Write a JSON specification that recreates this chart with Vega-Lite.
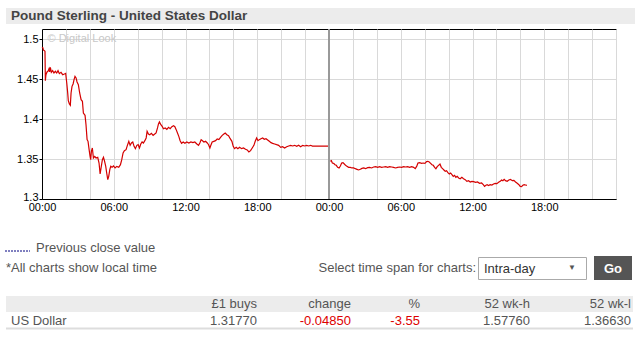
{
  "$schema": "https://vega.github.io/schema/vega-lite/v6.json",
  "width": 574,
  "height": 170,
  "autosize": {"type": "none"},
  "padding": {"left": 42, "top": 29, "right": 28, "bottom": 138},
  "background": "white",
  "config": {
    "font": "Liberation Sans",
    "view": {"stroke": "black", "strokeWidth": 1},
    "axis": {
      "labelFont": "Liberation Sans",
      "labelFontSize": 11,
      "labelColor": "black",
      "domainColor": "black",
      "gridColor": "#d9d9d9",
      "gridWidth": 1,
      "title": null,
      "labelOverlap": false
    },
    "axisX": {"labelFlush": false, "labelBound": false, "labelOverlap": false, "ticks": false, "labelPadding": 2}
  },
  "datasets": {
    "fx": [
      {"day": 1, "hour": 0.00, "rate": 1.4896},
      {"day": 1, "hour": 0.08, "rate": 1.4888},
      {"day": 1, "hour": 0.11, "rate": 1.4863},
      {"day": 1, "hour": 0.20, "rate": 1.4854},
      {"day": 1, "hour": 0.25, "rate": 1.4846},
      {"day": 1, "hour": 0.28, "rate": 1.4479},
      {"day": 1, "hour": 0.33, "rate": 1.4554},
      {"day": 1, "hour": 0.42, "rate": 1.4588},
      {"day": 1, "hour": 0.50, "rate": 1.4596},
      {"day": 1, "hour": 0.59, "rate": 1.4629},
      {"day": 1, "hour": 0.64, "rate": 1.4588},
      {"day": 1, "hour": 0.70, "rate": 1.4646},
      {"day": 1, "hour": 0.78, "rate": 1.4583},
      {"day": 1, "hour": 0.89, "rate": 1.4604},
      {"day": 1, "hour": 1.00, "rate": 1.4575},
      {"day": 1, "hour": 1.12, "rate": 1.4596},
      {"day": 1, "hour": 1.23, "rate": 1.4575},
      {"day": 1, "hour": 1.34, "rate": 1.4604},
      {"day": 1, "hour": 1.45, "rate": 1.4567},
      {"day": 1, "hour": 1.59, "rate": 1.4583},
      {"day": 1, "hour": 1.73, "rate": 1.4554},
      {"day": 1, "hour": 1.87, "rate": 1.4563},
      {"day": 1, "hour": 1.98, "rate": 1.4571},
      {"day": 1, "hour": 2.07, "rate": 1.445},
      {"day": 1, "hour": 2.15, "rate": 1.4325},
      {"day": 1, "hour": 2.20, "rate": 1.4229},
      {"day": 1, "hour": 2.29, "rate": 1.4188},
      {"day": 1, "hour": 2.37, "rate": 1.4171},
      {"day": 1, "hour": 2.43, "rate": 1.4325},
      {"day": 1, "hour": 2.51, "rate": 1.4408},
      {"day": 1, "hour": 2.60, "rate": 1.4438},
      {"day": 1, "hour": 2.68, "rate": 1.4492},
      {"day": 1, "hour": 2.76, "rate": 1.4533},
      {"day": 1, "hour": 2.85, "rate": 1.4513},
      {"day": 1, "hour": 2.93, "rate": 1.4463},
      {"day": 1, "hour": 3.04, "rate": 1.4429},
      {"day": 1, "hour": 3.15, "rate": 1.4325},
      {"day": 1, "hour": 3.27, "rate": 1.4242},
      {"day": 1, "hour": 3.38, "rate": 1.4221},
      {"day": 1, "hour": 3.46, "rate": 1.4075},
      {"day": 1, "hour": 3.60, "rate": 1.4046},
      {"day": 1, "hour": 3.68, "rate": 1.3929},
      {"day": 1, "hour": 3.77, "rate": 1.3742},
      {"day": 1, "hour": 3.85, "rate": 1.3721},
      {"day": 1, "hour": 3.94, "rate": 1.3617},
      {"day": 1, "hour": 4.02, "rate": 1.3533},
      {"day": 1, "hour": 4.07, "rate": 1.3492},
      {"day": 1, "hour": 4.13, "rate": 1.3596},
      {"day": 1, "hour": 4.21, "rate": 1.3638},
      {"day": 1, "hour": 4.30, "rate": 1.3513},
      {"day": 1, "hour": 4.41, "rate": 1.3533},
      {"day": 1, "hour": 4.52, "rate": 1.3513},
      {"day": 1, "hour": 4.66, "rate": 1.3521},
      {"day": 1, "hour": 4.77, "rate": 1.345},
      {"day": 1, "hour": 4.86, "rate": 1.3313},
      {"day": 1, "hour": 4.94, "rate": 1.3388},
      {"day": 1, "hour": 5.05, "rate": 1.3492},
      {"day": 1, "hour": 5.14, "rate": 1.3521},
      {"day": 1, "hour": 5.22, "rate": 1.3479},
      {"day": 1, "hour": 5.33, "rate": 1.3408},
      {"day": 1, "hour": 5.41, "rate": 1.3325},
      {"day": 1, "hour": 5.50, "rate": 1.3242},
      {"day": 1, "hour": 5.58, "rate": 1.3283},
      {"day": 1, "hour": 5.67, "rate": 1.3367},
      {"day": 1, "hour": 5.75, "rate": 1.3408},
      {"day": 1, "hour": 5.86, "rate": 1.3396},
      {"day": 1, "hour": 5.97, "rate": 1.3413},
      {"day": 1, "hour": 6.11, "rate": 1.3388},
      {"day": 1, "hour": 6.25, "rate": 1.3408},
      {"day": 1, "hour": 6.42, "rate": 1.3396},
      {"day": 1, "hour": 6.56, "rate": 1.3429},
      {"day": 1, "hour": 6.67, "rate": 1.3492},
      {"day": 1, "hour": 6.78, "rate": 1.3575},
      {"day": 1, "hour": 6.89, "rate": 1.3604},
      {"day": 1, "hour": 7.03, "rate": 1.3617},
      {"day": 1, "hour": 7.14, "rate": 1.3671},
      {"day": 1, "hour": 7.26, "rate": 1.3721},
      {"day": 1, "hour": 7.37, "rate": 1.3671},
      {"day": 1, "hour": 7.48, "rate": 1.37},
      {"day": 1, "hour": 7.59, "rate": 1.3713},
      {"day": 1, "hour": 7.70, "rate": 1.3658},
      {"day": 1, "hour": 7.81, "rate": 1.3629},
      {"day": 1, "hour": 7.93, "rate": 1.3671},
      {"day": 1, "hour": 8.04, "rate": 1.3679},
      {"day": 1, "hour": 8.15, "rate": 1.3638},
      {"day": 1, "hour": 8.26, "rate": 1.3688},
      {"day": 1, "hour": 8.37, "rate": 1.3713},
      {"day": 1, "hour": 8.48, "rate": 1.37},
      {"day": 1, "hour": 8.60, "rate": 1.3729},
      {"day": 1, "hour": 8.71, "rate": 1.3763},
      {"day": 1, "hour": 8.79, "rate": 1.3846},
      {"day": 1, "hour": 8.90, "rate": 1.3813},
      {"day": 1, "hour": 9.01, "rate": 1.3804},
      {"day": 1, "hour": 9.15, "rate": 1.3821},
      {"day": 1, "hour": 9.29, "rate": 1.3796},
      {"day": 1, "hour": 9.43, "rate": 1.3813},
      {"day": 1, "hour": 9.54, "rate": 1.3825},
      {"day": 1, "hour": 9.66, "rate": 1.3888},
      {"day": 1, "hour": 9.74, "rate": 1.3938},
      {"day": 1, "hour": 9.82, "rate": 1.3963},
      {"day": 1, "hour": 9.94, "rate": 1.3929},
      {"day": 1, "hour": 10.05, "rate": 1.3908},
      {"day": 1, "hour": 10.16, "rate": 1.3879},
      {"day": 1, "hour": 10.30, "rate": 1.3888},
      {"day": 1, "hour": 10.44, "rate": 1.3871},
      {"day": 1, "hour": 10.58, "rate": 1.3896},
      {"day": 1, "hour": 10.72, "rate": 1.3879},
      {"day": 1, "hour": 10.86, "rate": 1.3904},
      {"day": 1, "hour": 11.00, "rate": 1.3917},
      {"day": 1, "hour": 11.11, "rate": 1.3904},
      {"day": 1, "hour": 11.22, "rate": 1.3867},
      {"day": 1, "hour": 11.33, "rate": 1.3825},
      {"day": 1, "hour": 11.44, "rate": 1.3783},
      {"day": 1, "hour": 11.55, "rate": 1.3729},
      {"day": 1, "hour": 11.67, "rate": 1.3696},
      {"day": 1, "hour": 11.81, "rate": 1.3713},
      {"day": 1, "hour": 11.95, "rate": 1.3696},
      {"day": 1, "hour": 12.11, "rate": 1.3713},
      {"day": 1, "hour": 12.28, "rate": 1.37},
      {"day": 1, "hour": 12.45, "rate": 1.3713},
      {"day": 1, "hour": 12.62, "rate": 1.3704},
      {"day": 1, "hour": 12.78, "rate": 1.3713},
      {"day": 1, "hour": 12.95, "rate": 1.3688},
      {"day": 1, "hour": 13.09, "rate": 1.3671},
      {"day": 1, "hour": 13.20, "rate": 1.37},
      {"day": 1, "hour": 13.31, "rate": 1.3742},
      {"day": 1, "hour": 13.42, "rate": 1.3729},
      {"day": 1, "hour": 13.54, "rate": 1.3713},
      {"day": 1, "hour": 13.68, "rate": 1.3721},
      {"day": 1, "hour": 13.82, "rate": 1.37},
      {"day": 1, "hour": 13.93, "rate": 1.3679},
      {"day": 1, "hour": 14.04, "rate": 1.3638},
      {"day": 1, "hour": 14.12, "rate": 1.3671},
      {"day": 1, "hour": 14.23, "rate": 1.3713},
      {"day": 1, "hour": 14.37, "rate": 1.3721},
      {"day": 1, "hour": 14.51, "rate": 1.3729},
      {"day": 1, "hour": 14.65, "rate": 1.375},
      {"day": 1, "hour": 14.79, "rate": 1.3742},
      {"day": 1, "hour": 14.93, "rate": 1.3771},
      {"day": 1, "hour": 15.07, "rate": 1.3796},
      {"day": 1, "hour": 15.21, "rate": 1.3813},
      {"day": 1, "hour": 15.32, "rate": 1.3825},
      {"day": 1, "hour": 15.46, "rate": 1.3804},
      {"day": 1, "hour": 15.60, "rate": 1.3792},
      {"day": 1, "hour": 15.74, "rate": 1.3754},
      {"day": 1, "hour": 15.88, "rate": 1.3721},
      {"day": 1, "hour": 15.99, "rate": 1.3658},
      {"day": 1, "hour": 16.10, "rate": 1.3629},
      {"day": 1, "hour": 16.24, "rate": 1.3646},
      {"day": 1, "hour": 16.38, "rate": 1.3629},
      {"day": 1, "hour": 16.52, "rate": 1.3646},
      {"day": 1, "hour": 16.69, "rate": 1.3629},
      {"day": 1, "hour": 16.85, "rate": 1.3638},
      {"day": 1, "hour": 17.02, "rate": 1.3621},
      {"day": 1, "hour": 17.16, "rate": 1.3613},
      {"day": 1, "hour": 17.30, "rate": 1.3588},
      {"day": 1, "hour": 17.44, "rate": 1.3604},
      {"day": 1, "hour": 17.58, "rate": 1.3638},
      {"day": 1, "hour": 17.72, "rate": 1.3671},
      {"day": 1, "hour": 17.83, "rate": 1.3721},
      {"day": 1, "hour": 17.95, "rate": 1.3763},
      {"day": 1, "hour": 18.06, "rate": 1.3729},
      {"day": 1, "hour": 18.17, "rate": 1.3742},
      {"day": 1, "hour": 18.31, "rate": 1.3754},
      {"day": 1, "hour": 18.45, "rate": 1.3763},
      {"day": 1, "hour": 18.59, "rate": 1.3746},
      {"day": 1, "hour": 18.73, "rate": 1.3754},
      {"day": 1, "hour": 18.87, "rate": 1.3738},
      {"day": 1, "hour": 19.01, "rate": 1.3721},
      {"day": 1, "hour": 19.15, "rate": 1.3704},
      {"day": 1, "hour": 19.29, "rate": 1.3696},
      {"day": 1, "hour": 19.45, "rate": 1.3688},
      {"day": 1, "hour": 19.62, "rate": 1.3679},
      {"day": 1, "hour": 19.79, "rate": 1.3671},
      {"day": 1, "hour": 19.96, "rate": 1.3646},
      {"day": 1, "hour": 20.12, "rate": 1.3654},
      {"day": 1, "hour": 20.29, "rate": 1.3638},
      {"day": 1, "hour": 20.46, "rate": 1.3654},
      {"day": 1, "hour": 20.63, "rate": 1.3663},
      {"day": 1, "hour": 20.79, "rate": 1.3671},
      {"day": 1, "hour": 20.96, "rate": 1.3663},
      {"day": 1, "hour": 21.13, "rate": 1.3671},
      {"day": 1, "hour": 21.30, "rate": 1.3658},
      {"day": 1, "hour": 21.46, "rate": 1.3671},
      {"day": 1, "hour": 21.63, "rate": 1.3654},
      {"day": 1, "hour": 21.80, "rate": 1.3671},
      {"day": 1, "hour": 21.97, "rate": 1.3663},
      {"day": 1, "hour": 22.13, "rate": 1.3671},
      {"day": 1, "hour": 22.30, "rate": 1.3663},
      {"day": 1, "hour": 22.47, "rate": 1.3671},
      {"day": 1, "hour": 22.61, "rate": 1.3662},
      {"day": 1, "hour": 24.00, "rate": 1.3662},
      {"day": 2, "hour": 24.11, "rate": 1.3471},
      {"day": 2, "hour": 24.20, "rate": 1.3479},
      {"day": 2, "hour": 24.28, "rate": 1.345},
      {"day": 2, "hour": 24.39, "rate": 1.3446},
      {"day": 2, "hour": 24.50, "rate": 1.3429},
      {"day": 2, "hour": 24.61, "rate": 1.3421},
      {"day": 2, "hour": 24.72, "rate": 1.3396},
      {"day": 2, "hour": 24.84, "rate": 1.3388},
      {"day": 2, "hour": 24.95, "rate": 1.3413},
      {"day": 2, "hour": 25.06, "rate": 1.345},
      {"day": 2, "hour": 25.17, "rate": 1.3454},
      {"day": 2, "hour": 25.28, "rate": 1.3438},
      {"day": 2, "hour": 25.39, "rate": 1.3421},
      {"day": 2, "hour": 25.50, "rate": 1.3408},
      {"day": 2, "hour": 25.64, "rate": 1.3396},
      {"day": 2, "hour": 25.78, "rate": 1.3396},
      {"day": 2, "hour": 25.92, "rate": 1.3388},
      {"day": 2, "hour": 26.06, "rate": 1.3388},
      {"day": 2, "hour": 26.20, "rate": 1.3379},
      {"day": 2, "hour": 26.34, "rate": 1.3371},
      {"day": 2, "hour": 26.48, "rate": 1.3363},
      {"day": 2, "hour": 26.62, "rate": 1.3371},
      {"day": 2, "hour": 26.76, "rate": 1.3383},
      {"day": 2, "hour": 26.90, "rate": 1.3388},
      {"day": 2, "hour": 27.06, "rate": 1.3379},
      {"day": 2, "hour": 27.23, "rate": 1.3392},
      {"day": 2, "hour": 27.40, "rate": 1.3396},
      {"day": 2, "hour": 27.57, "rate": 1.3388},
      {"day": 2, "hour": 27.73, "rate": 1.34},
      {"day": 2, "hour": 27.90, "rate": 1.3404},
      {"day": 2, "hour": 28.07, "rate": 1.3396},
      {"day": 2, "hour": 28.23, "rate": 1.3404},
      {"day": 2, "hour": 28.40, "rate": 1.3396},
      {"day": 2, "hour": 28.57, "rate": 1.34},
      {"day": 2, "hour": 28.74, "rate": 1.3404},
      {"day": 2, "hour": 28.90, "rate": 1.3396},
      {"day": 2, "hour": 29.07, "rate": 1.3404},
      {"day": 2, "hour": 29.24, "rate": 1.34},
      {"day": 2, "hour": 29.40, "rate": 1.3396},
      {"day": 2, "hour": 29.57, "rate": 1.3388},
      {"day": 2, "hour": 29.74, "rate": 1.3396},
      {"day": 2, "hour": 29.91, "rate": 1.34},
      {"day": 2, "hour": 30.07, "rate": 1.3396},
      {"day": 2, "hour": 30.24, "rate": 1.3404},
      {"day": 2, "hour": 30.41, "rate": 1.34},
      {"day": 2, "hour": 30.57, "rate": 1.3404},
      {"day": 2, "hour": 30.74, "rate": 1.3396},
      {"day": 2, "hour": 30.91, "rate": 1.3404},
      {"day": 2, "hour": 31.08, "rate": 1.3396},
      {"day": 2, "hour": 31.21, "rate": 1.3379},
      {"day": 2, "hour": 31.33, "rate": 1.3408},
      {"day": 2, "hour": 31.44, "rate": 1.345},
      {"day": 2, "hour": 31.58, "rate": 1.3454},
      {"day": 2, "hour": 31.74, "rate": 1.3446},
      {"day": 2, "hour": 31.88, "rate": 1.345},
      {"day": 2, "hour": 32.02, "rate": 1.3446},
      {"day": 2, "hour": 32.16, "rate": 1.3467},
      {"day": 2, "hour": 32.27, "rate": 1.3471},
      {"day": 2, "hour": 32.38, "rate": 1.3463},
      {"day": 2, "hour": 32.50, "rate": 1.3446},
      {"day": 2, "hour": 32.61, "rate": 1.3429},
      {"day": 2, "hour": 32.72, "rate": 1.3421},
      {"day": 2, "hour": 32.83, "rate": 1.3396},
      {"day": 2, "hour": 32.94, "rate": 1.3379},
      {"day": 2, "hour": 33.05, "rate": 1.3404},
      {"day": 2, "hour": 33.16, "rate": 1.3421},
      {"day": 2, "hour": 33.28, "rate": 1.3438},
      {"day": 2, "hour": 33.39, "rate": 1.3396},
      {"day": 2, "hour": 33.50, "rate": 1.3379},
      {"day": 2, "hour": 33.61, "rate": 1.3363},
      {"day": 2, "hour": 33.72, "rate": 1.3346},
      {"day": 2, "hour": 33.83, "rate": 1.3354},
      {"day": 2, "hour": 33.94, "rate": 1.3329},
      {"day": 2, "hour": 34.06, "rate": 1.3313},
      {"day": 2, "hour": 34.17, "rate": 1.3325},
      {"day": 2, "hour": 34.28, "rate": 1.3304},
      {"day": 2, "hour": 34.39, "rate": 1.3283},
      {"day": 2, "hour": 34.50, "rate": 1.3296},
      {"day": 2, "hour": 34.61, "rate": 1.3271},
      {"day": 2, "hour": 34.72, "rate": 1.3283},
      {"day": 2, "hour": 34.84, "rate": 1.3263},
      {"day": 2, "hour": 34.97, "rate": 1.3254},
      {"day": 2, "hour": 35.11, "rate": 1.3271},
      {"day": 2, "hour": 35.25, "rate": 1.3254},
      {"day": 2, "hour": 35.39, "rate": 1.3242},
      {"day": 2, "hour": 35.53, "rate": 1.3221},
      {"day": 2, "hour": 35.67, "rate": 1.3229},
      {"day": 2, "hour": 35.81, "rate": 1.3213},
      {"day": 2, "hour": 35.95, "rate": 1.3221},
      {"day": 2, "hour": 36.09, "rate": 1.3217},
      {"day": 2, "hour": 36.26, "rate": 1.3208},
      {"day": 2, "hour": 36.42, "rate": 1.3213},
      {"day": 2, "hour": 36.59, "rate": 1.3196},
      {"day": 2, "hour": 36.76, "rate": 1.32},
      {"day": 2, "hour": 36.90, "rate": 1.3179},
      {"day": 2, "hour": 37.01, "rate": 1.3158},
      {"day": 2, "hour": 37.12, "rate": 1.3171},
      {"day": 2, "hour": 37.23, "rate": 1.3179},
      {"day": 2, "hour": 37.34, "rate": 1.3167},
      {"day": 2, "hour": 37.48, "rate": 1.3179},
      {"day": 2, "hour": 37.62, "rate": 1.3175},
      {"day": 2, "hour": 37.76, "rate": 1.3188},
      {"day": 2, "hour": 37.90, "rate": 1.3196},
      {"day": 2, "hour": 38.04, "rate": 1.3192},
      {"day": 2, "hour": 38.18, "rate": 1.3208},
      {"day": 2, "hour": 38.32, "rate": 1.3221},
      {"day": 2, "hour": 38.43, "rate": 1.3238},
      {"day": 2, "hour": 38.54, "rate": 1.3229},
      {"day": 2, "hour": 38.65, "rate": 1.3246},
      {"day": 2, "hour": 38.76, "rate": 1.3229},
      {"day": 2, "hour": 38.90, "rate": 1.3221},
      {"day": 2, "hour": 39.04, "rate": 1.3238},
      {"day": 2, "hour": 39.18, "rate": 1.3246},
      {"day": 2, "hour": 39.32, "rate": 1.3229},
      {"day": 2, "hour": 39.46, "rate": 1.3233},
      {"day": 2, "hour": 39.60, "rate": 1.3213},
      {"day": 2, "hour": 39.74, "rate": 1.3196},
      {"day": 2, "hour": 39.88, "rate": 1.3179},
      {"day": 2, "hour": 39.99, "rate": 1.3158},
      {"day": 2, "hour": 40.10, "rate": 1.3154},
      {"day": 2, "hour": 40.21, "rate": 1.3171},
      {"day": 2, "hour": 40.32, "rate": 1.3179},
      {"day": 2, "hour": 40.43, "rate": 1.3175},
      {"day": 2, "hour": 40.55, "rate": 1.3171}
    ],
    "labels": [
      {"title": "Pound Sterling - United States Dollar", "legend": "Previous close value", "note": "*All charts show local time", "select": "Select time span for charts:", "option": "Intra-day", "arrow": "▼", "button": "Go", "watermark": "© Digital Look", "boundary": 24}
    ],
    "table": [
      {"row": "head", "name": "", "buys": "£1 buys", "change": "change", "pct": "%", "high": "52 wk-h", "low": "52 wk-l"},
      {"row": "body", "name": "US Dollar", "buys": "1.31770", "change": "-0.04850", "pct": "-3.55", "high": "1.57760", "low": "1.36630"}
    ]
  },
  "layer": [
    {
      "data": {"name": "labels"},
      "mark": {"type": "text", "x": 5.5, "y": 9.5, "align": "left", "baseline": "middle", "fontSize": 11, "color": "#c8c8c8"},
      "encoding": {"text": {"field": "watermark"}}
    },
    {
      "encoding": {
        "x": {
          "field": "hour", "type": "quantitative",
          "scale": {"domain": [0, 48], "nice": false, "zero": false},
          "axis": {
            "values": [0, 2, 4, 6, 8, 10, 12, 14, 16, 18, 20, 22, 24, 26, 28, 30, 32, 34, 36, 38, 40, 42, 44, 46, 48],
            "labelExpr": "datum.value % 6 === 0 && datum.value < 48 ? ((datum.value % 24) < 10 ? '0' : '') + (datum.value % 24) + ':00' : ''",
            "ticks": false, "grid": true, "labelFlush": false, "labelOverlap": false, "labelBound": false, "labelPadding": 2
          }
        }
      },
      "layer": [
        {
          "data": {"name": "fx"},
          "mark": {"type": "line", "color": "#d40000", "strokeWidth": 1.2, "interpolate": "linear"},
          "encoding": {
            "y": {
              "field": "rate", "type": "quantitative",
              "scale": {"domain": [1.3, 1.5125], "nice": false, "zero": false},
              "axis": {
                "values": [1.3, 1.35, 1.4, 1.45, 1.5],
                "format": ".2~f",
                "tickSize": 3, "tickColor": "black", "labelPadding": 1, "grid": true, "labelOverlap": false,
                "labelFlush": true, "labelFlushOffset": 3
              }
            },
            "detail": {"field": "day", "type": "nominal"}
          }
        },
        {
          "data": {"name": "labels"},
          "mark": {"type": "rule", "color": "#999999", "strokeWidth": 2},
          "encoding": {"x": {"field": "boundary", "type": "quantitative"}}
        }
      ]
    },
    {
      "data": {"name": "labels"},
      "layer": [
        {"mark": {"type": "rect", "x": -36, "x2": 593, "y": -21, "y2": -5, "fill": "#ececec"}, "encoding": {}},
        {"mark": {"type": "text", "x": -31, "y": -13, "align": "left", "baseline": "middle", "fontSize": 13.5, "fontWeight": "bold", "color": "#444444"}, "encoding": {"text": {"field": "title"}}},
        {"mark": {"type": "rect", "x": -37, "x2": -12, "y": 222, "y2": 222, "fill": null, "stroke": "#000080", "strokeWidth": 1, "strokeDash": [1, 2]}, "encoding": {}},
        {"mark": {"type": "text", "x": -6, "y": 218.5, "align": "left", "baseline": "middle", "fontSize": 13, "color": "#555555"}, "encoding": {"text": {"field": "legend"}}},
        {"mark": {"type": "text", "x": -36, "y": 238.5, "align": "left", "baseline": "middle", "fontSize": 13, "color": "#555555"}, "encoding": {"text": {"field": "note"}}},
        {"mark": {"type": "text", "x": 434, "y": 238.5, "align": "right", "baseline": "middle", "fontSize": 13, "color": "#555555"}, "encoding": {"text": {"field": "select"}}},
        {"mark": {"type": "rect", "x": 436.5, "x2": 544.5, "y": 228.5, "y2": 250.5, "fill": "white", "stroke": "#aaaaaa", "strokeWidth": 1}, "encoding": {}},
        {"mark": {"type": "text", "x": 442, "y": 240, "align": "left", "baseline": "middle", "fontSize": 13, "color": "#333333"}, "encoding": {"text": {"field": "option"}}},
        {"mark": {"type": "text", "x": 530, "y": 238.5, "align": "center", "baseline": "middle", "fontSize": 8, "color": "#555555"}, "encoding": {"text": {"field": "arrow"}}},
        {"mark": {"type": "rect", "x": 552, "x2": 590, "y": 227, "y2": 251, "fill": "#555555"}, "encoding": {}},
        {"mark": {"type": "text", "x": 571, "y": 239.5, "align": "center", "baseline": "middle", "fontSize": 13, "fontWeight": "bold", "color": "white"}, "encoding": {"text": {"field": "button"}}},
        {"mark": {"type": "rect", "x": -36, "x2": 591, "y": 267, "y2": 283, "fill": "#ececec"}, "encoding": {}},
        {"mark": {"type": "rect", "x": -36, "x2": 591, "y": 298.5, "y2": 300.5, "fill": "#dddddd"}, "encoding": {}}
      ]
    },
    {
      "data": {"name": "table"},
      "encoding": {
        "y": {"field": "row", "type": "nominal", "scale": {"domain": ["head", "body"], "range": [275, 291.5], "padding": 0}, "axis": null},
        "color": {"condition": {"test": "datum.row === 'body'", "value": "#dd0000"}, "value": "#555555"}
      },
      "layer": [
        {"mark": {"type": "text", "x": -31, "align": "left", "baseline": "middle", "fontSize": 13}, "encoding": {"text": {"field": "name"}, "color": {"value": "#555555"}}},
        {"mark": {"type": "text", "x": 215, "align": "right", "baseline": "middle", "fontSize": 13}, "encoding": {"text": {"field": "buys"}, "color": {"value": "#555555"}}},
        {"mark": {"type": "text", "x": 309, "align": "right", "baseline": "middle", "fontSize": 13}, "encoding": {"text": {"field": "change"}}},
        {"mark": {"type": "text", "x": 378, "align": "right", "baseline": "middle", "fontSize": 13}, "encoding": {"text": {"field": "pct"}}},
        {"mark": {"type": "text", "x": 488, "align": "right", "baseline": "middle", "fontSize": 13}, "encoding": {"text": {"field": "high"}, "color": {"value": "#555555"}}},
        {"mark": {"type": "text", "x": 589, "align": "right", "baseline": "middle", "fontSize": 13}, "encoding": {"text": {"field": "low"}, "color": {"value": "#555555"}}}
      ]
    }
  ],
  "resolve": {"scale": {"y": "independent", "x": "independent", "color": "independent"}}
}
